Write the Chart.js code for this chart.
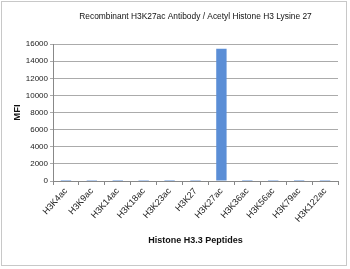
<!DOCTYPE html>
<html>
<head>
<meta charset="utf-8">
<script src="https://cdn.jsdelivr.net/npm/chart.js@4.4.0/dist/chart.umd.min.js"></script>
<style>
html, body { margin: 0; padding: 0; background: #fff; }
#wrap { position: absolute; left: 1px; top: 1px; width: 346px; height: 265px; border: 1px solid #c8c8c8; box-sizing: border-box; }
</style>
</head>
<body>
<div id="wrap"><canvas id="chart"></canvas></div>
<script>
var peptides = ['H3K4ac', 'H3K9ac', 'H3K14ac', 'H3K18ac', 'H3K23ac', 'H3K27', 'H3K27ac', 'H3K36ac', 'H3K56ac', 'H3K79ac', 'H3K122ac'];
var mfi = [120, 110, 120, 110, 120, 110, 15450, 120, 110, 120, 110];
var yTicks = [0, 2000, 4000, 6000, 8000, 10000, 12000, 14000, 16000];

var ctx = document.getElementById('chart').getContext('2d');
var chart = new Chart(ctx, {
    type: 'bar',
    data: {
        labels: peptides,
        datasets: [{
            label: 'MFI',
            data: mfi,
            backgroundColor: '#5b8ed6',
            borderWidth: 0,
            barPercentage: 0.4,
            categoryPercentage: 1
        }]
    },
    options: {
        responsive: true,
        maintainAspectRatio: false,
        animation: false,
        layout: { padding: { left: 0, right: 8, top: 0, bottom: 0 } },
        scales: {
            x: {
                afterFit: function (axis) { axis.height = 84; },
                grid: { display: true, drawOnChartArea: false, offset: true, color: '#888', tickLength: 4 },
                border: { color: '#888' },
                ticks: {
                    color: '#1a1a1a', maxRotation: 48, minRotation: 48,
                    font: { family: 'Liberation Sans', size: 9 }, padding: 1
                },
                title: {
                    display: true, text: 'Histone H3.3 Peptides', color: '#111',
                    font: { family: 'Liberation Sans', size: 9, weight: 'bold' }, padding: { top: 4, bottom: 19 }
                }
            },
            y: {
                min: 0, max: 16000,
                afterFit: function (axis) { axis.width = 51; },
                afterBuildTicks: function (axis) {
                    axis.ticks = yTicks.map(function (v) { return { value: v }; });
                },
                grid: { color: '#ababab', tickLength: 3 },
                border: { color: '#888' },
                ticks: {
                    color: '#1a1a1a', font: { family: 'Liberation Sans', size: 8 }, padding: 2,
                    callback: function (v) { return String(v); }
                },
                title: {
                    display: true, text: 'MFI', color: '#111',
                    font: { family: 'Liberation Sans', size: 9.5, weight: 'bold' }, padding: { top: 10, bottom: 2 }
                }
            }
        },
        plugins: {
            legend: { display: false },
            tooltip: { enabled: false },
            title: {
                display: true,
                fullSize: false,
                text: 'Recombinant H3K27ac Antibody / Acetyl Histone H3 Lysine 27',
                color: '#111',
                font: { family: 'Liberation Sans', size: 8.4, weight: 'normal' },
                padding: { top: 10, bottom: 22 }
            }
        }
    }
});
</script>
</body>
</html>
